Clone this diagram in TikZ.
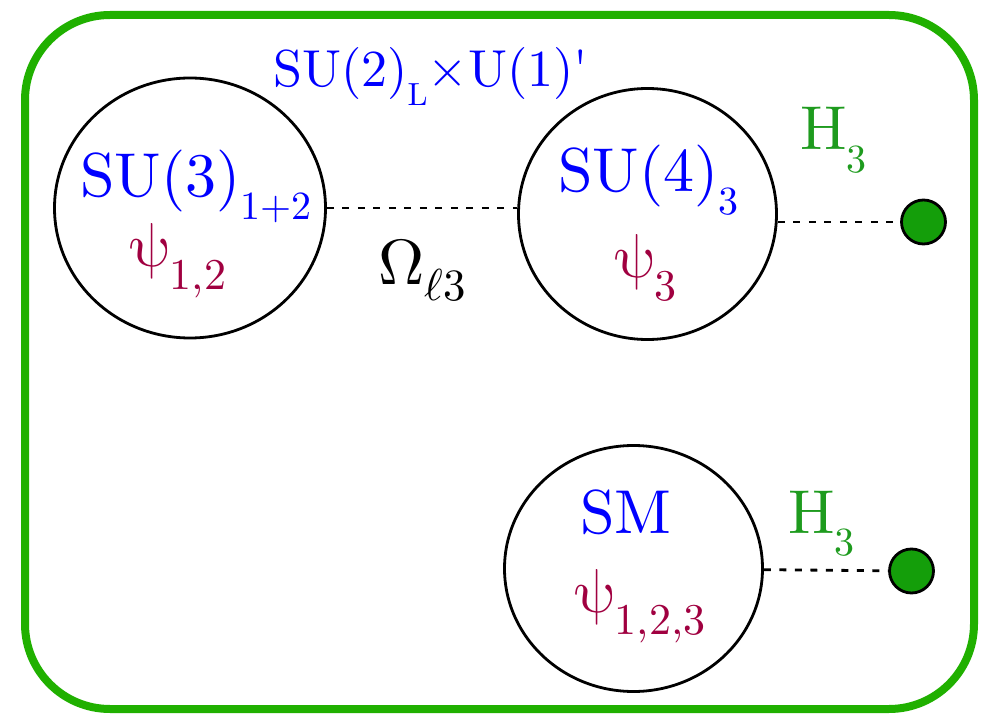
\documentclass[tikz,border=0pt]{standalone}
\usepackage{fontspec}
\usepackage{unicode-math}
\setmainfont{lmroman10-regular.otf}
\setmathfont{Latin Modern Math}
\usepackage{xcolor}
\usetikzlibrary{shapes.geometric, positioning}
\definecolor{framegreen}{RGB}{32,176,0}
\definecolor{dotgreen}{RGB}{20,158,10}
\definecolor{higgsgreen}{RGB}{30,155,30}
\definecolor{fermion}{RGB}{160,0,64}
\newcommand{\lowsub}[2][40]{\raisebox{-0.36em}{\fontsize{#1}{#1}\selectfont #2}}
\newcommand{\psisym}{{\fontsize{62}{62}\selectfont$\symup{\psi}$}}

\begin{document}
\begin{tikzpicture}[x=1pt, y=-1pt,
    group/.style={ellipse, draw=black, line width=2.8pt, inner sep=0pt},
    vev/.style={circle, draw=black, line width=2.8pt, fill=dotgreen, minimum size=44pt, inner sep=0pt},
    link/.style={line width=2.8pt, dash pattern=on 7pt off 8.5pt},
    lbl/.style={inner sep=0pt, anchor=base west, font=\fontsize{62}{62}\selectfont}
]
\useasboundingbox (0,0) rectangle (989,714);
\draw[framegreen, line width=8pt, rounded corners=85pt] (25,15) rectangle (974,709);

\node[group, minimum width=271pt, minimum height=260pt] (su3) at (190,208) {};
\node[group, minimum width=258pt, minimum height=251pt] (su4) at (647.5,214) {};
\node[group, minimum width=258pt, minimum height=246pt] (sm) at (633.5,568.5) {};
\node[vev] (h3a) at (923.5,222) {};
\node[vev] (h3b) at (911.5,571) {};

\node[lbl, text=blue] (su3lbl) at (80,197) {SU(3)\lowsub{1+2}};
\node[lbl, text=fermion] (psi12) at (130,267) {\psisym\lowsub[44]{1,2}};
\node[lbl, text=blue, font=\fontsize{52}{52}\selectfont] (gauge) at (273,87) {SU(2)\lowsub[32]{L}×U(1)\textquotesingle};
\node[lbl, text=black, font=\fontsize{64}{64}\selectfont] (omega) at (378,285) {$\Omega_{\ell 3}$};
\node[lbl, text=blue] (su4lbl) at (558,192) {SU(4)\lowsub{3}};
\node[lbl, text=fermion] (psi3) at (615,278) {\psisym\lowsub[44]{3}};
\node[lbl, text=higgsgreen] (h3albl) at (800,150) {H\lowsub{3}};
\node[lbl, text=blue] (smlbl) at (580,533) {SM};
\node[lbl, text=fermion] (psi123) at (575,612) {\psisym\lowsub[44]{1,2,3}};
\node[lbl, text=higgsgreen] (h3blbl) at (788,533) {H\lowsub{3}};

\draw[link] (su3.east) -- (su3.east -| su4.west);
\draw[link] (h3a -| su4.east) -- (h3a);
\draw[link] (sm) -- (h3b);
\end{tikzpicture}
\end{document}
